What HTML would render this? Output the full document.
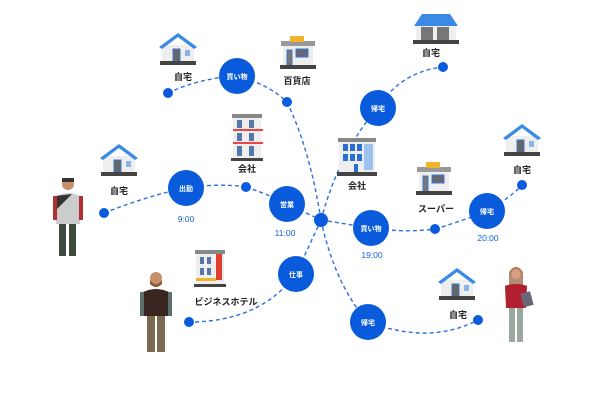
<!DOCTYPE html>
<html><head><meta charset="utf-8"><style>
body{margin:0;background:#fff}
svg{display:block}
text{font-family:"Liberation Sans","Noto Sans CJK JP",sans-serif}
.l{font-size:9px;font-weight:bold;fill:#222;text-anchor:middle}
.c{font-size:7px;font-weight:bold;fill:#fff;text-anchor:middle}
.t{font-size:8.5px;fill:#1560d8;text-anchor:middle}
.d{fill:none;stroke:#2d6fe0;stroke-width:1.4;stroke-dasharray:4 3}
</style></head><body>
<svg width="602" height="402" viewBox="0 0 602 402">
<defs>
<g id="house">
<rect x="-16" y="-2" width="32" height="16" fill="#eee"/>
<polygon points="-19,0 0,-14 19,0 16,2 0,-10 -16,2" fill="#3a8ae6"/>
<rect x="-5" y="2" width="7" height="12" fill="#666" stroke="#3a7acc" stroke-width="1"/>
<rect x="7" y="3" width="5" height="6" fill="#8ab4ea"/>
<rect x="-18" y="14" width="36" height="4" fill="#444"/>
</g>
<g id="shop">
<rect x="-15" y="-10" width="30" height="22" fill="#eee"/>
<rect x="-17" y="-12" width="34" height="5" fill="#999"/>
<rect x="-8" y="-17" width="14" height="6" fill="#f0b32b"/>
<rect x="-11" y="-3" width="5" height="15" fill="#777" stroke="#3a7acc"/>
<rect x="-2" y="-4" width="12" height="8" fill="#667" stroke="#3a7acc"/>
<rect x="-18" y="12" width="36" height="4" fill="#444"/>
</g>
</defs>
<!-- connectors -->
<path class="d" d="M168,93 Q200,78 237,76"/>
<path class="d" d="M237,76 Q270,85 287,102"/>
<path class="d" d="M287,102 Q310,150 321,220"/>
<path class="d" d="M104,213 Q150,195 186,188"/>
<path class="d" d="M186,188 Q220,183 246,187"/>
<path class="d" d="M246,187 Q270,195 287,204"/>
<path class="d" d="M287,204 L321,220"/>
<path class="d" d="M321,220 Q340,150 378,108"/>
<path class="d" d="M378,108 Q400,72 443,67"/>
<path class="d" d="M321,220 L371,228"/>
<path class="d" d="M371,228 Q405,233 435,229"/>
<path class="d" d="M435,229 Q465,220 487,211"/>
<path class="d" d="M487,211 Q510,198 522,185"/>
<path class="d" d="M321,220 L296,274"/>
<path class="d" d="M296,274 Q260,322 189,322"/>
<path class="d" d="M321,220 Q335,285 368,322"/>
<path class="d" d="M368,322 Q430,345 478,320"/>
<!-- dots -->
<g fill="#0a5bdc">
<circle cx="168" cy="93" r="5"/><circle cx="287" cy="102" r="5"/><circle cx="443" cy="67" r="5"/>
<circle cx="246" cy="187" r="5"/><circle cx="104" cy="213" r="5"/><circle cx="435" cy="229" r="5"/>
<circle cx="522" cy="185" r="5"/><circle cx="189" cy="322" r="5"/><circle cx="478" cy="320" r="5"/>
<circle cx="321" cy="220" r="7"/>
<circle cx="237" cy="76" r="18"/><circle cx="186" cy="188" r="18"/><circle cx="287" cy="204" r="18"/>
<circle cx="378" cy="108" r="18"/><circle cx="371" cy="228" r="18"/><circle cx="487" cy="211" r="18"/>
<circle cx="296" cy="274" r="18"/><circle cx="368" cy="322" r="18"/>
</g>
<text class="c" x="237" y="79">買い物</text><text class="c" x="186" y="191">出勤</text>
<text class="c" x="287" y="207">営業</text><text class="c" x="378" y="111">帰宅</text>
<text class="c" x="371" y="231">買い物</text><text class="c" x="487" y="214">帰宅</text>
<text class="c" x="296" y="277">仕事</text><text class="c" x="368" y="325">帰宅</text>
<text class="t" x="186" y="222">9:00</text><text class="t" x="285" y="236">11:00</text>
<text class="t" x="372" y="258">19:00</text><text class="t" x="488" y="241">20:00</text>
<!-- icons -->
<use href="#house" x="178" y="47"/>
<use href="#house" x="119" y="158"/>
<use href="#house" x="522" y="138"/>
<use href="#house" x="457" y="282"/>
<g transform="translate(436,28)"><rect x="-20" y="-4" width="40" height="16" fill="#eee"/><polygon points="-22,-2 -14,-14 14,-14 22,-2" fill="#3a8ae6"/><rect x="-15" y="-1" width="12" height="13" fill="#777"/><rect x="1" y="-1" width="12" height="13" fill="#777"/><rect x="-23" y="12" width="46" height="4" fill="#444"/></g>
<use href="#shop" x="298" y="53"/>
<use href="#shop" x="434" y="179"/>
<g transform="translate(247,138)"><rect x="-14" y="-22" width="28" height="42" fill="#eee"/><rect x="-15" y="-24" width="30" height="4" fill="#888"/><g fill="#5577aa"><rect x="-10" y="-18" width="5" height="8"/><rect x="2" y="-18" width="5" height="8"/><rect x="-10" y="-5" width="5" height="8"/><rect x="2" y="-5" width="5" height="8"/><rect x="-10" y="8" width="5" height="10"/><rect x="2" y="8" width="5" height="10"/></g><rect x="-14" y="-9" width="30" height="2" fill="#e44"/><rect x="-14" y="4" width="30" height="2" fill="#e44"/><rect x="-16" y="20" width="32" height="3" fill="#444"/></g>
<g transform="translate(357,155)"><rect x="-18" y="-15" width="36" height="32" fill="#eee"/><rect x="-19" y="-17" width="38" height="4" fill="#888"/><g fill="#2a6fd0"><rect x="-14" y="-11" width="5" height="7"/><rect x="-7" y="-11" width="5" height="7"/><rect x="0" y="-11" width="5" height="7"/><rect x="-14" y="-1" width="5" height="7"/><rect x="-7" y="-1" width="5" height="7"/><rect x="0" y="-1" width="5" height="7"/><rect x="-3" y="9" width="4" height="8"/></g><rect x="7" y="-11" width="9" height="26" fill="#9cc2f0"/><rect x="-20" y="17" width="40" height="4" fill="#444"/></g>
<g transform="translate(210,268)"><rect x="-14" y="-16" width="28" height="32" fill="#eee"/><rect x="-15" y="-18" width="30" height="4" fill="#888"/><g fill="#5577aa"><rect x="-10" y="-11" width="4" height="7"/><rect x="-3" y="-11" width="4" height="7"/><rect x="-10" y="0" width="4" height="7"/><rect x="-3" y="0" width="4" height="7"/></g><rect x="6" y="-14" width="6" height="26" fill="#e04030"/><rect x="-14" y="10" width="20" height="3" fill="#f0b32b"/><rect x="-16" y="16" width="32" height="3" fill="#444"/></g>
<text class="l" x="183" y="80">自宅</text><text class="l" x="297" y="84">百貨店</text>
<text class="l" x="247" y="172">会社</text><text class="l" x="119" y="194">自宅</text>
<text class="l" x="357" y="189">会社</text><text class="l" x="431" y="56">自宅</text>
<text class="l" x="522" y="173">自宅</text><text class="l" x="436" y="212">スーパー</text>
<text class="l" x="226" y="305">ビジネスホテル</text><text class="l" x="458" y="318">自宅</text>
<!-- people -->
<g transform="translate(68,178)"><circle cx="0" cy="6" r="6" fill="#c8906a"/><rect x="-6" y="0" width="12" height="4" fill="#333"/><path d="M-12,18 Q0,12 12,18 L12,46 L-12,46Z" fill="#ccc"/><path d="M-12,18 L4,16 L-12,32Z" fill="#333"/><rect x="-15" y="18" width="4" height="24" fill="#b03030"/><rect x="11" y="18" width="4" height="24" fill="#b03030"/><rect x="-9" y="46" width="7" height="32" fill="#3d4a40"/><rect x="1" y="46" width="7" height="32" fill="#3d4a40"/></g>
<g transform="translate(156,272)"><circle cx="0" cy="6" r="6" fill="#c8906a"/><path d="M-6,8 Q0,16 6,8 L6,12 Q0,18 -6,12Z" fill="#8a5a3a"/><path d="M-13,20 Q0,14 13,20 L12,44 L-12,44Z" fill="#3a2420"/><rect x="-16" y="20" width="4" height="24" fill="#5c7070"/><rect x="12" y="20" width="4" height="24" fill="#5c7070"/><rect x="-9" y="44" width="8" height="36" fill="#7a6a50"/><rect x="1" y="44" width="8" height="36" fill="#7a6a50"/></g>
<g transform="translate(516,266)"><circle cx="0" cy="7" r="6" fill="#d8a080"/><path d="M-7,6 Q0,-4 7,6 L7,20 L-7,20Z" fill="#a07050" opacity=".8"/><circle cx="0" cy="8" r="5" fill="#d8a080"/><path d="M-11,20 Q0,16 11,20 L10,42 L-10,42Z" fill="#b02030"/><rect x="-3" y="28" width="10" height="14" fill="#667" transform="rotate(-15)"/><rect x="-7" y="42" width="6" height="34" fill="#9aa8a0"/><rect x="1" y="42" width="6" height="34" fill="#9aa8a0"/></g>
</svg>
</body></html>
